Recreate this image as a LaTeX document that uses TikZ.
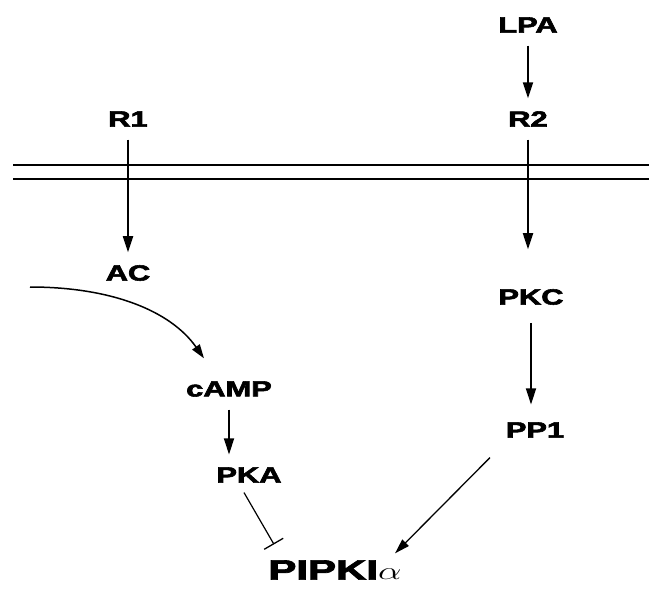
\documentclass[tikz,border=0pt]{standalone}
\usepackage{amsmath}
\usepackage{fontspec}
\setmainfont{Liberation Sans}
\newfontfamily\heavyfont{Liberation Sans Bold}[FakeBold=2.5]
\usetikzlibrary{arrows.meta,calc}

% heavy, horizontally stretched label text
\newcommand{\widelabel}[1]{\scalebox{1.4}[1]{\heavyfont #1}}

\begin{document}
\begin{tikzpicture}[x=1pt,y=-1pt,
  lbl/.style={inner sep=0pt, outer sep=13pt, font=\fontsize{22}{26}\selectfont},
  big/.style={inner sep=0pt, outer sep=0pt, font=\fontsize{28}{32}\selectfont},
  act/.style={line width=1.8pt, -{Triangle[length=16pt,width=10pt]}},
  inhib/.style={line width=1.2pt, -{Bar[width=22pt,line width=1.3pt]}},
  membrane/.style={line width=1.4pt}]
  \useasboundingbox (0,0) rectangle (649,590);

  % plasma membrane
  \coordinate (mL1) at (13,165);  \coordinate (mR1) at (649,165);
  \coordinate (mL2) at (13,179);  \coordinate (mR2) at (649,179);
  \draw[membrane] (mL1) -- (mR1);
  \draw[membrane] (mL2) -- (mR2);

  % molecules
  \node[lbl] (LPA)  at (528,25)  {\widelabel{LPA}};
  \node[lbl] (R1)   at (128,119) {\widelabel{R1}};
  \node[lbl] (R2)   at (528,119) {\widelabel{R2}};
  \node[lbl] (AC)   at (128,273) {\widelabel{AC}};
  \node[lbl] (PKC)  at (531,297) {\widelabel{PKC}};
  \node[lbl] (PP1)  at (535,430) {\widelabel{PP1}};
  \node[lbl] (cAMP) at (229,389) {\widelabel{cAMP}};
  \node[lbl] (PKA)  at (249,475) {\widelabel{PKA}};
  \node[big] (PIPKI) at (335,570) {\scalebox{1.5}[1]{\heavyfont PIPKI$\alpha$}};

  % signalling steps
  \draw[act] (LPA) -- (R2);
  \draw[act] (R1) -- (AC);
  \draw[act, shorten >=27pt] (R2.south) -- (R2.south |- PKC.north);
  \draw[act, shorten <=5pt, shorten >=5pt] (PKC.south) -- (PKC.south |- PP1.north);
  \draw[act] (cAMP.south) -- (cAMP.south |- PKA.north);

  \coordinate (atp) at (30,287);
  \draw[line width=1.5pt, -{Triangle[length=14pt,width=9pt]}]
    (atp) .. controls (110,287) and (170,310) .. ([shift={(-25,-10)}]cAMP.north);

  \draw[inhib] ([shift={(-5,-3)}]PKA.south) -- ([shift={(-61,-16)}]PIPKI.north);
  \draw[line width=1.3pt, -{Triangle[length=15pt,width=9pt]}]
    ([shift={(-45,7)}]PP1.south) -- ([shift={(60,-7)}]PIPKI.north);
\end{tikzpicture}
\end{document}
